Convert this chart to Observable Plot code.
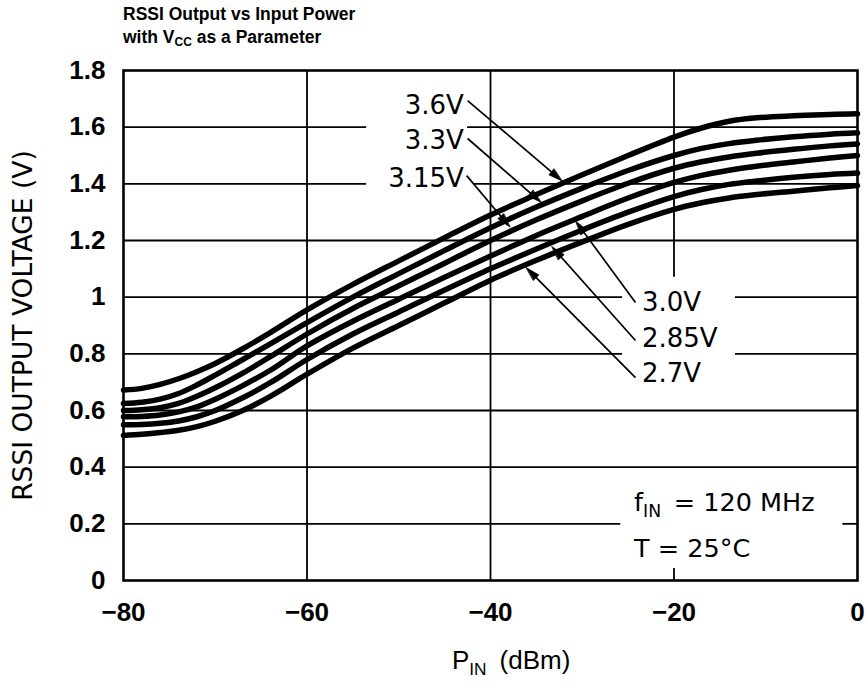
<!DOCTYPE html>
<html>
<head>
<meta charset="utf-8">
<script src="https://cdn.jsdelivr.net/npm/d3@7"></script>
<script src="https://cdn.jsdelivr.net/npm/@observablehq/plot@0.6"></script>
<style>
  html, body { margin: 0; padding: 0; background: #fff; }
  #wrap { position: relative; width: 868px; height: 696px; }
  #title { position: absolute; left: 123px; top: 3px; font-family: "Liberation Sans", Arial, sans-serif;
           font-weight: bold; font-size: 17.5px; line-height: 22.5px; color: #000; }
  #title sub { font-size: 12px; vertical-align: -3px; line-height: 0; }
</style>
</head>
<body>
<div id="wrap"><div id="title">RSSI Output vs Input Power<br>with V<sub>CC</sub> as a Parameter</div></div>
<script>
// ---------- data ----------
const pin   = [-80, -78, -76, -74, -72, -70, -67, -64, -60, -55, -50, -45, -40, -35, -30, -25, -20, -17, -14, -11, -7, -3, 0];
const v36   = [0.672, 0.678, 0.692, 0.712, 0.737, 0.766, 0.818, 0.875, 0.955, 1.045, 1.128, 1.210, 1.290, 1.362, 1.432, 1.500, 1.565, 1.597, 1.621, 1.633, 1.640, 1.645, 1.647];
const v33   = [0.625, 0.629, 0.640, 0.660, 0.690, 0.725, 0.780, 0.835, 0.910, 1.000, 1.083, 1.165, 1.245, 1.318, 1.385, 1.447, 1.500, 1.525, 1.542, 1.554, 1.566, 1.575, 1.580];
const v315  = [0.600, 0.603, 0.610, 0.625, 0.650, 0.680, 0.732, 0.790, 0.870, 0.960, 1.040, 1.120, 1.200, 1.273, 1.340, 1.402, 1.455, 1.478, 1.495, 1.508, 1.522, 1.534, 1.541];
const v30   = [0.578, 0.579, 0.584, 0.595, 0.613, 0.640, 0.688, 0.742, 0.828, 0.915, 0.993, 1.070, 1.145, 1.218, 1.285, 1.350, 1.405, 1.430, 1.448, 1.462, 1.477, 1.491, 1.500];
const v285  = [0.550, 0.551, 0.555, 0.563, 0.578, 0.600, 0.645, 0.698, 0.780, 0.870, 0.948, 1.025, 1.100, 1.170, 1.237, 1.300, 1.355, 1.380, 1.398, 1.410, 1.423, 1.433, 1.438];
const v27   = [0.512, 0.516, 0.522, 0.530, 0.543, 0.562, 0.600, 0.650, 0.728, 0.820, 0.900, 0.980, 1.060, 1.130, 1.195, 1.257, 1.310, 1.333, 1.350, 1.362, 1.374, 1.386, 1.394];
const seriesNames  = ["3.6V", "3.3V", "3.15V", "3.0V", "2.85V", "2.7V"];
const seriesValues = [v36, v33, v315, v30, v285, v27];

const xTicks = [-80, -60, -40, -20, 0];
const xTickLabels = ["\u221280", "\u221260", "\u221240", "\u221220", "0"];
const yTicks = [0, 0.2, 0.4, 0.6, 0.8, 1.0, 1.2, 1.4, 1.6, 1.8];
const yTickLabels = ["0", "0.2", "0.4", "0.6", "0.8", "1", "1.2", "1.4", "1.6", "1.8"];

// curve labels and their leader arrows (data units)
const labelX      = [-42.9, -42.9, -42.9, -23.5, -23.5, -23.5];
const labelY      = [1.676, 1.553, 1.419, 0.981, 0.854, 0.731];
const labelSide   = ["left", "left", "left", "right", "right", "right"];
const arrowX1 = [-42.5, -42.5, -42.6, -24.2, -24.2, -24.2];
const arrowY1 = [1.694, 1.560, 1.429, 0.981, 0.847, 0.716];
const arrowX2 = [-32.2, -34.5, -37.9, -30.7, -33.3, -36.1];
const arrowY2 = [1.410, 1.335, 1.248, 1.268, 1.178, 1.104];

// grid segments (broken where the annotations sit)
const hGridY  = [1.6, 1.6, 1.4, 1.4, 1.2, 1.0, 1.0, 0.8, 0.8, 0.6, 0.4, 0.2, 0.2];
const hGridX1 = [-80, -42.5, -80, -41.8, -80, -80, -13.3, -80, -13.3, -80, -80, -80, -1.6];
const hGridX2 = [-53.5, 0, -53.5, 0, 0, -25.6, 0, -25.6, 0, 0, 0, -25.8, 0];
const vGridX  = [-60, -40, -20, -20];
const vGridY1 = [0, 0, 1.07, 0];
const vGridY2 = [1.8, 1.8, 1.8, 0.042];

const condText = ["f_IN = 120 MHz", "T = 25\u00B0C"];
const condX = [-24.35, -24.35];
const condY = [0.275, 0.113];

const yAxisTitle = "RSSI OUTPUT VOLTAGE (V)";
const xAxisTitle = "P_IN (dBm)";

// ---------- build ----------
const rows = [];
seriesNames.forEach((name, s) => pin.forEach((p, i) => rows.push({pin: p, v: seriesValues[s][i], series: name})));

const W = 868, H = 696;
const base = {
  width: W, height: H,
  marginTop: 70, marginRight: 11, marginBottom: 116, marginLeft: 123,
  x: {domain: [-80, 0], ticks: xTicks, tickFormat: (d) => xTickLabels[xTicks.indexOf(d)], tickSize: 0, tickPadding: 22, label: null},
  y: {domain: [0, 1.8], ticks: yTicks, tickFormat: (d) => yTickLabels[yTicks.findIndex(t => Math.abs(t - d) < 1e-9)], tickSize: 0, tickPadding: 18, label: null},
  style: {fontFamily: "'Liberation Sans', Arial, sans-serif", fontSize: "26px", fontWeight: "bold", color: "#000", background: "#fff", overflow: "visible"}
};

// probe plot to obtain the scales, used to shape the arrowheads in screen space
const probe = Plot.plot({...base, marks: [Plot.line(rows, {x: "pin", y: "v", z: "series"})]});
const sx = probe.scale("x"), sy = probe.scale("y");
const idx = d3.range(seriesNames.length);
const idxL = idx.filter(i => labelSide[i] === "left");
const idxR = idx.filter(i => labelSide[i] === "right");
const headRows = [], linkRows = [];
const L = 14, HW = 3.8;
idx.forEach(i => {
  const S = [sx.apply(arrowX1[i]), sy.apply(arrowY1[i])];
  const T = [sx.apply(arrowX2[i]), sy.apply(arrowY2[i])];
  const dx = T[0] - S[0], dy = T[1] - S[1], len = Math.hypot(dx, dy);
  const u = [dx / len, dy / len], n = [-u[1], u[0]];
  const B = [T[0] - L * u[0], T[1] - L * u[1]];
  const M = [T[0] - 0.5 * L * u[0], T[1] - 0.5 * L * u[1]];
  const pts = [T, [B[0] + HW * n[0], B[1] + HW * n[1]], [B[0] - HW * n[0], B[1] - HW * n[1]]];
  pts.forEach(p => headRows.push({x: sx.invert(p[0]), y: sy.invert(p[1]), id: i}));
  linkRows.push({x1: arrowX1[i], y1: arrowY1[i], x2: sx.invert(M[0]), y2: sy.invert(M[1])});
});

const labelFont = {fontFamily: "'DejaVu Sans', sans-serif", fontSize: 26, fontWeight: "normal", fill: "#000"};

const chart = Plot.plot({
  ...base,
  marks: [
    Plot.ruleY(d3.range(hGridY.length), {y: i => hGridY[i], x1: i => hGridX1[i], x2: i => hGridX2[i], stroke: "#000", strokeWidth: 1.8}),
    Plot.ruleX(d3.range(vGridX.length), {x: i => vGridX[i], y1: i => vGridY1[i], y2: i => vGridY2[i], stroke: "#000", strokeWidth: 1.8}),
    Plot.frame({stroke: "#000", strokeWidth: 2.6}),
    Plot.line(rows, {x: "pin", y: "v", z: "series", stroke: "#000", strokeWidth: 5.5, curve: "catmull-rom"}),
    Plot.link(linkRows, {x1: "x1", y1: "y1", x2: "x2", y2: "y2", stroke: "#000", strokeWidth: 1.7}),
    Plot.line(headRows, {x: "x", y: "y", z: "id", fill: "#000", stroke: "#000", strokeWidth: 0.8, curve: "linear-closed"}),
    Plot.text(idxL, {x: i => labelX[i], y: i => labelY[i], text: i => seriesNames[i], textAnchor: "end", ...labelFont}),
    Plot.text(idxR, {x: i => labelX[i], y: i => labelY[i], text: i => seriesNames[i], textAnchor: "start", ...labelFont}),
    Plot.text(condText, {x: (d, i) => condX[i], y: (d, i) => condY[i], text: d => d, textAnchor: "start",
                    fontFamily: "'DejaVu Sans', sans-serif", fontSize: 25.5, fontWeight: "normal", fill: "#000"}),
    Plot.text([yAxisTitle], {frameAnchor: "left", dx: -100, rotate: -90, text: d => d, textAnchor: "middle",
                    fontFamily: "'DejaVu Sans', sans-serif", fontSize: 26.5, fontWeight: "normal", fill: "#000"}),
    Plot.text([xAxisTitle], {x: -44.2, frameAnchor: "bottom", dy: 88, text: d => d, textAnchor: "start",
                    fontFamily: "'Liberation Sans', Arial, sans-serif", fontSize: 26, fontWeight: "normal", fill: "#000"})
  ]
});

// subscripts (P_IN, f_IN)
function applySubscripts(root) {
  const ns = "http://www.w3.org/2000/svg";
  root.querySelectorAll("text").forEach(text => {
    const tsp = Array.from(text.querySelectorAll("tspan"));
    const nodes = tsp.length ? tsp : [text];
    nodes.forEach(node => {
      const s = node.textContent;
      const m = s.match(/^(.*?)_([A-Za-z]+)(.*)$/);
      if (!m) return;
      const fs = parseFloat(text.getAttribute("font-size")) || 24;
      node.textContent = "";
      const a = document.createElementNS(ns, "tspan"); a.textContent = m[1]; node.appendChild(a);
      const b = document.createElementNS(ns, "tspan"); b.textContent = m[2];
      b.setAttribute("dy", (0.28 * fs).toFixed(1)); b.setAttribute("font-size", (0.72 * fs).toFixed(1)); node.appendChild(b);
      const c = document.createElementNS(ns, "tspan"); c.textContent = "\u2002" + m[3].trim();
      c.setAttribute("dy", (-0.28 * fs).toFixed(1)); node.appendChild(c);
    });
  });
}
applySubscripts(chart);
document.getElementById("wrap").insertBefore(chart, document.getElementById("title"));
chart.style.position = "absolute"; chart.style.left = "0"; chart.style.top = "0";
</script>
</body>
</html>
